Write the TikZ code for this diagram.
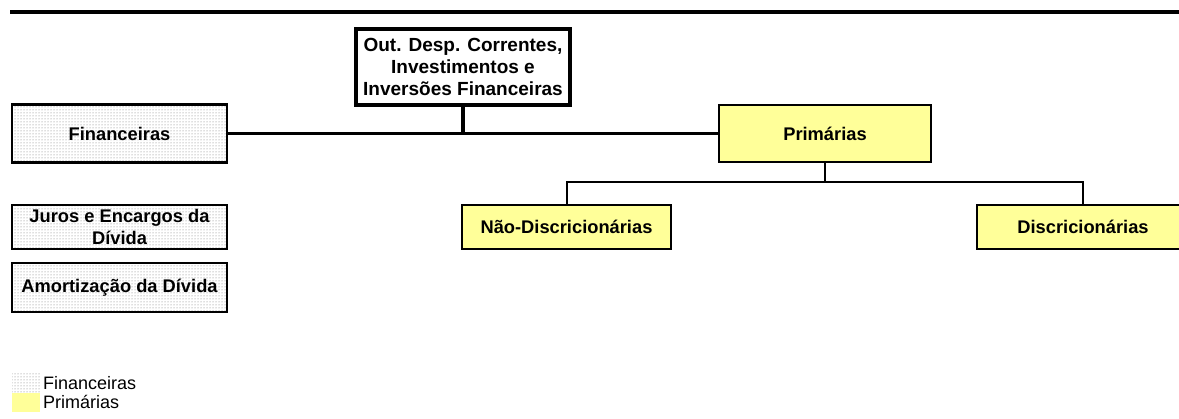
\documentclass[tikz,border=0pt]{standalone}
\usepackage{fontspec}
\setmainfont{Liberation Sans}
\usetikzlibrary{patterns}
\definecolor{primyellow}{HTML}{FFFF99}
\tikzset{
  boxtext/.style={font=\fontsize{18.3}{21.5}\selectfont\bfseries, align=center, inner sep=0pt, rectangle, text=black},
  finbox/.style={boxtext, draw=black, line width=2.4pt, pattern=dots, pattern color=black!55},
  primbox/.style={boxtext, draw=black, line width=2.2pt, fill=primyellow},
  outbox/.style={boxtext, font=\fontsize{19}{22}\selectfont\bfseries, draw=black, line width=3.4pt, fill=white},
  thickcon/.style={line width=3.4pt},
  thincon/.style={line width=2pt},
  legtext/.style={font=\fontsize{18}{20}\selectfont, anchor=west, inner sep=0pt}
}
\begin{document}
\begin{tikzpicture}[x=1pt,y=-1pt]
\useasboundingbox (0,0) rectangle (1179,419);
% top rule
\coordinate (tl) at (10,12);
\coordinate (tr) at (1179,12);
\draw[line width=4pt] (tl) -- (tr);

\node[outbox, minimum width=214pt, minimum height=76pt] (out) at (463,67) {Out. Desp. Correntes,\\Investimentos e\\Inversões Financeiras};
\node[finbox, minimum width=215pt, minimum height=58pt] (fin) at (119.5,133.5) {Financeiras};
\node[primbox, minimum width=212pt, minimum height=57pt] (prim) at (825,133.5) {Primárias};
\node[primbox, minimum width=209pt, minimum height=44pt] (nao) at (566.5,227) {Não-Discricionárias};
\node[primbox, minimum width=212pt, minimum height=44pt] (disc) at (1083,227) {Discricionárias};
\node[finbox, minimum width=215pt, minimum height=44pt] (juros) at (119.5,227) {Juros e Encargos da\\Dívida};
\node[finbox, minimum width=215pt, minimum height=49pt] (amort) at (119.5,287.5) {Amortização da Dívida};

% connectors
\coordinate (j1) at (out.south |- fin.east);
\draw[thickcon] (fin.east) -- (prim.west);
\draw[thickcon] (out.south) -- (j1);
\coordinate (bus) at (825,182);
\draw[thincon] (prim.south) -- (bus);
\draw[thincon] (nao.north) |- (bus) -| (disc.north);

% legend
\fill[pattern=dots, pattern color=black!55] (12,372) rectangle (40,393);
\fill[primyellow] (12,393) rectangle (40,412);
\node[legtext] (lfin) at (43,383) {Financeiras};
\node[legtext] (lprim) at (43,402) {Primárias};
\end{tikzpicture}
\end{document}
